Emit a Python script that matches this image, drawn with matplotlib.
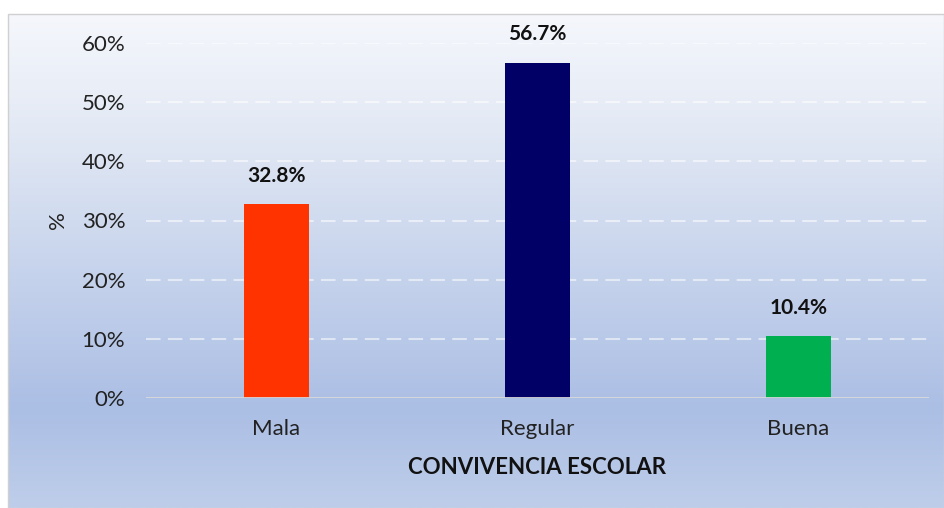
import numpy as np
import matplotlib
matplotlib.use("Agg")
from matplotlib import pyplot as plt
from matplotlib.colors import LinearSegmentedColormap
from matplotlib.patches import Rectangle

categories = ["Mala", "Regular", "Buena"]
values = [32.8, 56.7, 10.4]
bar_colors = ["#FF3300", "#000066", "#00B050"]
yticks = [0, 10, 20, 30, 40, 50, 60]

plt.rcParams['font.family'] = ['Lato', 'DejaVu Sans']

fig = plt.figure(figsize=(9.44, 5.08), dpi=100)

# background gradient of the chart area (with border)
bx0, by0 = 8 / 944, 0.0
bw, bh = 1 - bx0, 1 - 14 / 508
bg = fig.add_axes([bx0, by0, bw, bh], zorder=0)
cmap = LinearSegmentedColormap.from_list(
    "bg", [(0.0, "#F5F7FC"), (0.22, "#E4EAF5"), (0.80, "#ABBEE4"), (1.0, "#BECEEA")])
grad = np.linspace(0, 1, 256).reshape(-1, 1)
bg.imshow(grad, aspect="auto", cmap=cmap, extent=[0, 1, 0, 1], origin="upper")
bg.set_xlim(0, 1)
bg.set_ylim(0, 1)
bg.axis("off")
fig.patches.append(Rectangle((bx0, by0), bw - 0.0005, bh, transform=fig.transFigure,
                             fill=False, edgecolor="#D0D0D0", linewidth=1, zorder=1))

ax = fig.add_axes([146 / 944, 1 - 398 / 508, (929 - 146) / 944, (398 - 43) / 508], zorder=2)
ax.patch.set_alpha(0)

x = np.arange(len(categories))
ax.bar(x, values, width=0.25, color=bar_colors, zorder=3)
for xi, v in zip(x, values):
    ax.annotate(f"{v}%", (xi, v), xytext=(0, 13), textcoords="offset points",
                ha="center", va="bottom", fontsize=15, fontweight="bold", color="#111111")

ax.set_xlim(-0.5, 2.5)
ax.set_ylim(0, 60)
ax.set_yticks(yticks)
ax.set_yticklabels([f"{t}%" for t in yticks], fontsize=16, color="#222222")
ax.set_xticks(x)
ax.set_xticklabels(categories, fontsize=16, color="#222222")
ax.tick_params(length=0)
ax.tick_params(axis="y", pad=15)
ax.tick_params(axis="x", pad=15)

for t in yticks[1:]:
    ax.axhline(t, color="white", alpha=0.55, linewidth=1.5, linestyle=(0, (7, 3.5)), zorder=1)
ax.axhline(0, color="#D9D9D9", linewidth=2, zorder=4)

for s in ax.spines.values():
    s.set_visible(False)

ax.set_xlabel("CONVIVENCIA ESCOLAR", fontsize=16, fontweight="bold", color="#111111", labelpad=13)
ax.set_ylabel("%", fontsize=16, color="#222222", labelpad=10)

fig.savefig("out.png", dpi=100)
